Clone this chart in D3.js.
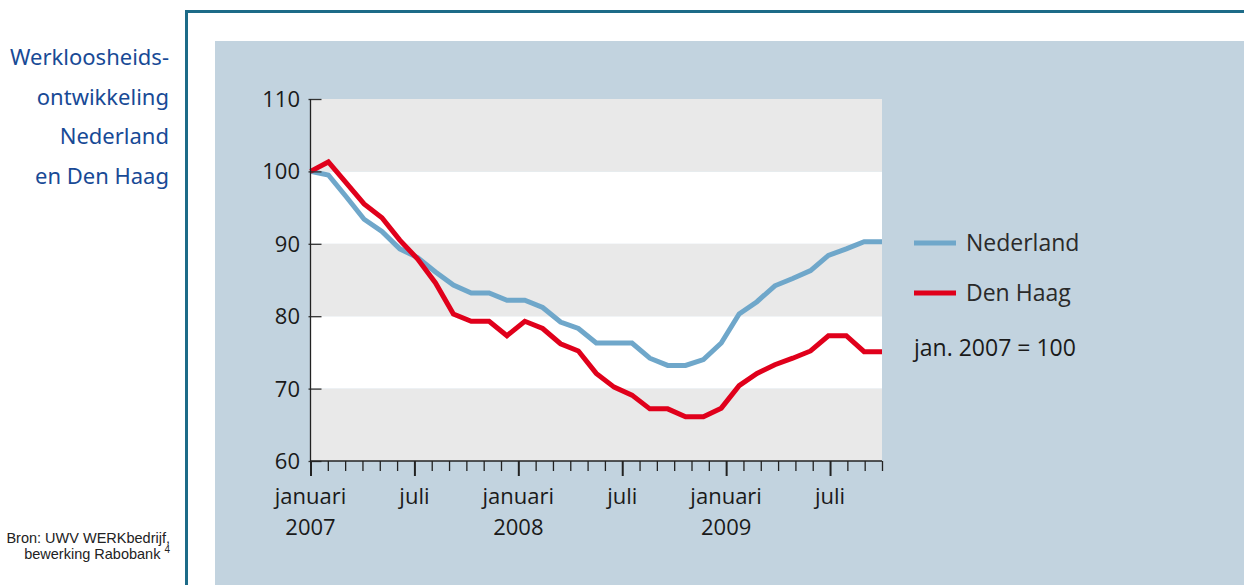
<!DOCTYPE html>
<html lang="nl">
<head>
<meta charset="UTF-8">
<title>Werkloosheidsontwikkeling</title>
<script src="https://cdn.jsdelivr.net/npm/d3@7"></script>
<style>
	body { margin: 0; background: #fff; }
	svg { display: block; }
	.title { font-family: "Noto Sans"; font-size: 22px; fill: #184a96; }
	.source { font-family: "Liberation Sans"; font-size: 14.5px; fill: #222; }
	.lbl { font-family: "Open Sans"; font-size: 22px; fill: #1a1a1a; }
</style>
</head>
<body>
<script>
	var months = d3.range(0, 34); // tick positions, jan 2007 .. okt 2009
	var monthLabels = [
		{ m: 0, l1: "januari", l2: "2007" },
		{ m: 6, l1: "juli", l2: "" },
		{ m: 12, l1: "januari", l2: "2008" },
		{ m: 18, l1: "juli", l2: "" },
		{ m: 24, l1: "januari", l2: "2009" },
		{ m: 30, l1: "juli", l2: "" }
	];
	var yTicks = [60, 70, 80, 90, 100, 110];

	var nederland = [100, 99.5, 96.5, 93.4, 91.7, 89.3, 88.1, 86.1, 84.3, 83.2, 83.2,
		82.2, 82.2, 81.2, 79.2, 78.3, 76.3, 76.3, 76.3, 74.2, 73.2, 73.2, 74.0, 76.3,
		80.3, 82.0, 84.2, 85.2, 86.3, 88.4, 89.3, 90.3, 90.3];
	var denHaag = [100, 101.3, 98.4, 95.5, 93.6, 90.5, 87.9, 84.6, 80.3, 79.3, 79.3,
		77.3, 79.3, 78.3, 76.2, 75.2, 72.1, 70.2, 69.1, 67.2, 67.2, 66.1, 66.1, 67.3,
		70.4, 72.1, 73.3, 74.2, 75.2, 77.3, 77.3, 75.1, 75.1];

	var series = [
		{ name: "Nederland", values: nederland, color: "#6fa7ca" },
		{ name: "Den Haag", values: denHaag, color: "#e0001b" }
	];

	var W = 1244, H = 585;
	var svg = d3.select("body").append("svg").attr("width", W).attr("height", H);

	// frame + panel
	svg.append("rect").attr("x", 215).attr("y", 41).attr("width", W - 215).attr("height", H - 41)
		.attr("fill", "#c2d3df");
	svg.append("path").attr("d", "M186.5,585V11.5H1244")
		.attr("fill", "none").attr("stroke", "#1d6b88").attr("stroke-width", 3);

	// title
	var title = ["Werkloosheids-", "ontwikkeling", "Nederland", "en Den Haag"];
	svg.append("g").selectAll("text").data(title).enter().append("text")
		.attr("class", "title")
		.attr("x", 169)
		.attr("y", function (d, i) { return 65 + i * 39.5; })
		.attr("text-anchor", "end")
		.text(function (d) { return d; });

	// source
	var src = svg.append("g").attr("class", "source");
	src.append("text").attr("x", 170).attr("y", 543).attr("text-anchor", "end")
		.text("Bron: UWV WERKbedrijf,");
	var s2 = src.append("text").attr("x", 170).attr("y", 559).attr("text-anchor", "end");
	s2.append("tspan").text("bewerking Rabobank ");
	s2.append("tspan").attr("font-size", "10px").attr("dy", -6).text("4");

	var x0 = 310.5, x1 = 882, yTop = 99, yBot = 461;
	var x = d3.scaleLinear().domain([0, 33]).range([x0, x1]);
	var xData = d3.scaleLinear().domain([0, nederland.length - 1]).range([x0, x1]);
	var y = d3.scaleLinear().domain([60, 110]).range([yBot, yTop]);

	// bands
	var bands = [[60, 70, "#e9e9e9"], [70, 80, "#ffffff"], [80, 90, "#e9e9e9"], [90, 100, "#ffffff"], [100, 110, "#e9e9e9"]];
	svg.append("g").selectAll("rect").data(bands).enter().append("rect")
		.attr("x", x0).attr("width", x1 - x0)
		.attr("y", function (d) { return y(d[1]); })
		.attr("height", function (d) { return y(d[0]) - y(d[1]); })
		.attr("fill", function (d) { return d[2]; });

	// lines
	var line = d3.line()
		.x(function (d, i) { return xData(i); })
		.y(function (d) { return y(d); });
	svg.append("g").selectAll("path").data(series).enter().append("path")
		.attr("d", function (d) { return line(d.values); })
		.attr("fill", "none")
		.attr("stroke", function (d) { return d.color; })
		.attr("stroke-width", 5)
		.attr("stroke-linejoin", "miter");

	// y axis
	var yAxis = d3.axisRight(y).tickValues(yTicks).tickSize(11).tickFormat("");
	var ya = svg.append("g").attr("transform", "translate(" + x0 + ",0)").call(yAxis);
	ya.select(".domain").remove();
	ya.selectAll("line").attr("stroke", "#333").attr("stroke-width", 1.3).attr("x1", -2);
	svg.append("line").attr("x1", x0).attr("x2", x0).attr("y1", yTop).attr("y2", yBot)
		.attr("stroke", "#222").attr("stroke-width", 1.3);
	svg.append("g").selectAll("text").data(yTicks).enter().append("text")
		.attr("class", "lbl")
		.attr("x", 300).attr("y", function (d) { return y(d) + 8; })
		.attr("text-anchor", "end")
		.text(function (d) { return d; });

	// x axis
	var majors = monthLabels.map(function (d) { return d.m; });
	var xa = svg.append("g").attr("transform", "translate(0," + yBot + ")")
		.call(d3.axisBottom(x).tickValues(months).tickSize(10).tickFormat(""));
	xa.select(".domain").attr("stroke", "#222").attr("stroke-width", 1.5).attr("d", "M" + x0 + ",0H" + x1);
	xa.selectAll(".tick line").attr("stroke", "#222")
		.attr("y2", function (d) { return majors.indexOf(d) >= 0 ? 15 : 10; })
		.attr("stroke-width", function (d) { return majors.indexOf(d) >= 0 ? 2 : 1.3; });

	var xl = svg.append("g").selectAll("g").data(monthLabels).enter().append("g")
		.attr("transform", function (d) { return "translate(" + x(d.m) + ",0)"; });
	xl.append("text").attr("class", "lbl").attr("y", 504).attr("text-anchor", "middle")
		.text(function (d) { return d.l1; });
	xl.append("text").attr("class", "lbl").attr("y", 535).attr("text-anchor", "middle")
		.text(function (d) { return d.l2; });

	// legend
	var lg = svg.append("g").selectAll("g").data(series).enter().append("g")
		.attr("transform", function (d, i) { return "translate(914," + (243 + i * 50) + ")"; });
	lg.append("line").attr("x1", 0).attr("x2", 42)
		.attr("stroke", function (d) { return d.color; }).attr("stroke-width", 5);
	lg.append("text").attr("class", "lbl").attr("x", 52).attr("y", 8)
		.style("font-size", "23px").style("fill", "#2a2a2a")
		.text(function (d) { return d.name; });
	svg.append("text").attr("class", "lbl").attr("x", 914).attr("y", 356)
		.style("font-size", "23px")
		.text("jan. 2007 = 100");
</script>
</body>
</html>
